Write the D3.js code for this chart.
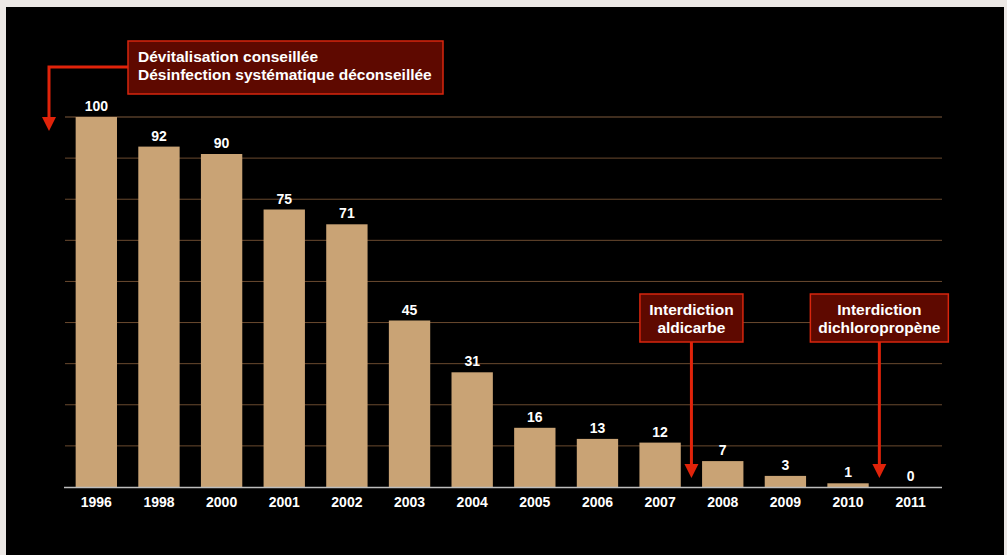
<!DOCTYPE html>
<html>
<head>
<meta charset="utf-8">
<script src="https://cdn.jsdelivr.net/npm/d3@7"></script>
<style>
  body { margin: 0; background: #ece8e5; }
  svg { display: block; font-family: "Liberation Sans", Arial, sans-serif; }
</style>
</head>
<body>
<div class="chart"></div>
<script>
var years = ["1996","1998","2000","2001","2002","2003","2004","2005","2006","2007","2008","2009","2010","2011"]
var values = [100,92,90,75,71,45,31,16,13,12,7,3,1,0]
var gridCount = 9

// annotations: label lines + the year gap the arrow points into
var notes = [
  {lines: ["Dévitalisation conseillée", "Désinfection systématique déconseillée"]},
  {lines: ["Interdiction", "aldicarbe"], after: "2007"},
  {lines: ["Interdiction", "dichloropropène"], after: "2010"}
]

var width = 1007, height = 555
var red = "#e0230a"

var svg = d3.select(".chart").append("svg")
    .attr("width", width)
    .attr("height", height)

svg.append("rect")
    .attr("x", 6).attr("y", 7)
    .attr("width", 998).attr("height", 548)
    .attr("fill", "#000")

var x = d3.scaleBand()
    .domain(years)
    .range([65, 942])
    .paddingInner(0.34)
    .paddingOuter(0.17)

var y = d3.scaleLinear()
    .domain([0, 100])
    .range([487, 117])

// gridlines
var grid = d3.range(1, gridCount + 1).map(k => k * 100 / gridCount)
svg.selectAll(".grid")
    .data(grid)
    .enter()
    .append("line")
    .attr("x1", 65).attr("x2", 942)
    .attr("y1", d => y(d)).attr("y2", d => y(d))
    .attr("stroke", (d, i) => i == gridCount - 1 ? "#3f2d1e" : "#6a4a2f")
    .attr("stroke-width", (d, i) => i == gridCount - 1 ? 2 : 1)

svg.selectAll(".bar")
    .data(values)
    .enter()
    .append("rect")
    .attr("x", (d, i) => x(years[i]))
    .attr("width", x.bandwidth())
    .attr("y", d => y(d))
    .attr("height", d => y(0) - y(d))
    .attr("fill", "#c9a375")

svg.selectAll(".val")
    .data(values)
    .enter()
    .append("text")
    .attr("x", (d, i) => x(years[i]) + x.bandwidth() / 2)
    .attr("y", d => y(d) - 6)
    .attr("text-anchor", "middle")
    .attr("fill", "#fff")
    .style("font-size", "14px")
    .style("font-weight", "bold")
    .text(d => d)

// baseline
svg.append("line")
    .attr("x1", 64).attr("x2", 942)
    .attr("y1", y(0) + 0.5).attr("y2", y(0) + 0.5)
    .attr("stroke", "#bdbdbd")
    .attr("stroke-width", 1.5)

var xAxis = svg.append("g")
    .attr("transform", "translate(0," + y(0) + ")")
    .call(d3.axisBottom(x).tickSize(0).tickPadding(10))
xAxis.select(".domain").remove()
xAxis.selectAll("text")
    .attr("fill", "#fff")
    .style("font-size", "14px")
    .style("font-weight", "bold")
    .style("font-family", "'Liberation Sans', Arial, sans-serif")

function noteBox(x0, y0, w, h) {
    svg.append("rect")
        .attr("x", x0).attr("y", y0)
        .attr("width", w).attr("height", h)
        .attr("fill", "#5e0900")
        .attr("stroke", "#d8260e")
        .attr("stroke-width", 1.5)
}

// first note: top left
noteBox(128, 41, 315, 53)
svg.append("path")
    .attr("d", "M128,67 H49 V118")
    .attr("fill", "none")
    .attr("stroke", red)
    .attr("stroke-width", 3)
svg.append("path")
    .attr("d", "M42,117 L56,117 L49,131 Z")
    .attr("fill", red)
notes[0].lines.forEach(function(t, i) {
    svg.append("text")
        .attr("x", 138).attr("y", 62 + i * 18)
        .attr("fill", "#fff")
        .style("font-size", "15.5px")
        .style("font-weight", "bold")
        .text(t)
})

// the two bans, arrows drop between bars
var boxW = [103, 138]
notes.slice(1).forEach(function(n, k) {
    var i = years.indexOf(n.after)
    var ax = (x(years[i]) + x.bandwidth() + x(years[i + 1])) / 2
    var w = boxW[k]
    noteBox(ax - w / 2, 294, w, 48)
    svg.append("line")
        .attr("x1", ax).attr("x2", ax)
        .attr("y1", 342).attr("y2", 465)
        .attr("stroke", red)
        .attr("stroke-width", 3)
    svg.append("path")
        .attr("d", "M" + (ax - 7) + ",464 L" + (ax + 7) + ",464 L" + ax + ",478 Z")
        .attr("fill", red)
    n.lines.forEach(function(t, j) {
        svg.append("text")
            .attr("x", ax).attr("y", 315 + j * 18)
            .attr("text-anchor", "middle")
            .attr("fill", "#fff")
            .style("font-size", "15.5px")
            .style("font-weight", "bold")
            .text(t)
    })
})
</script>
</body>
</html>
